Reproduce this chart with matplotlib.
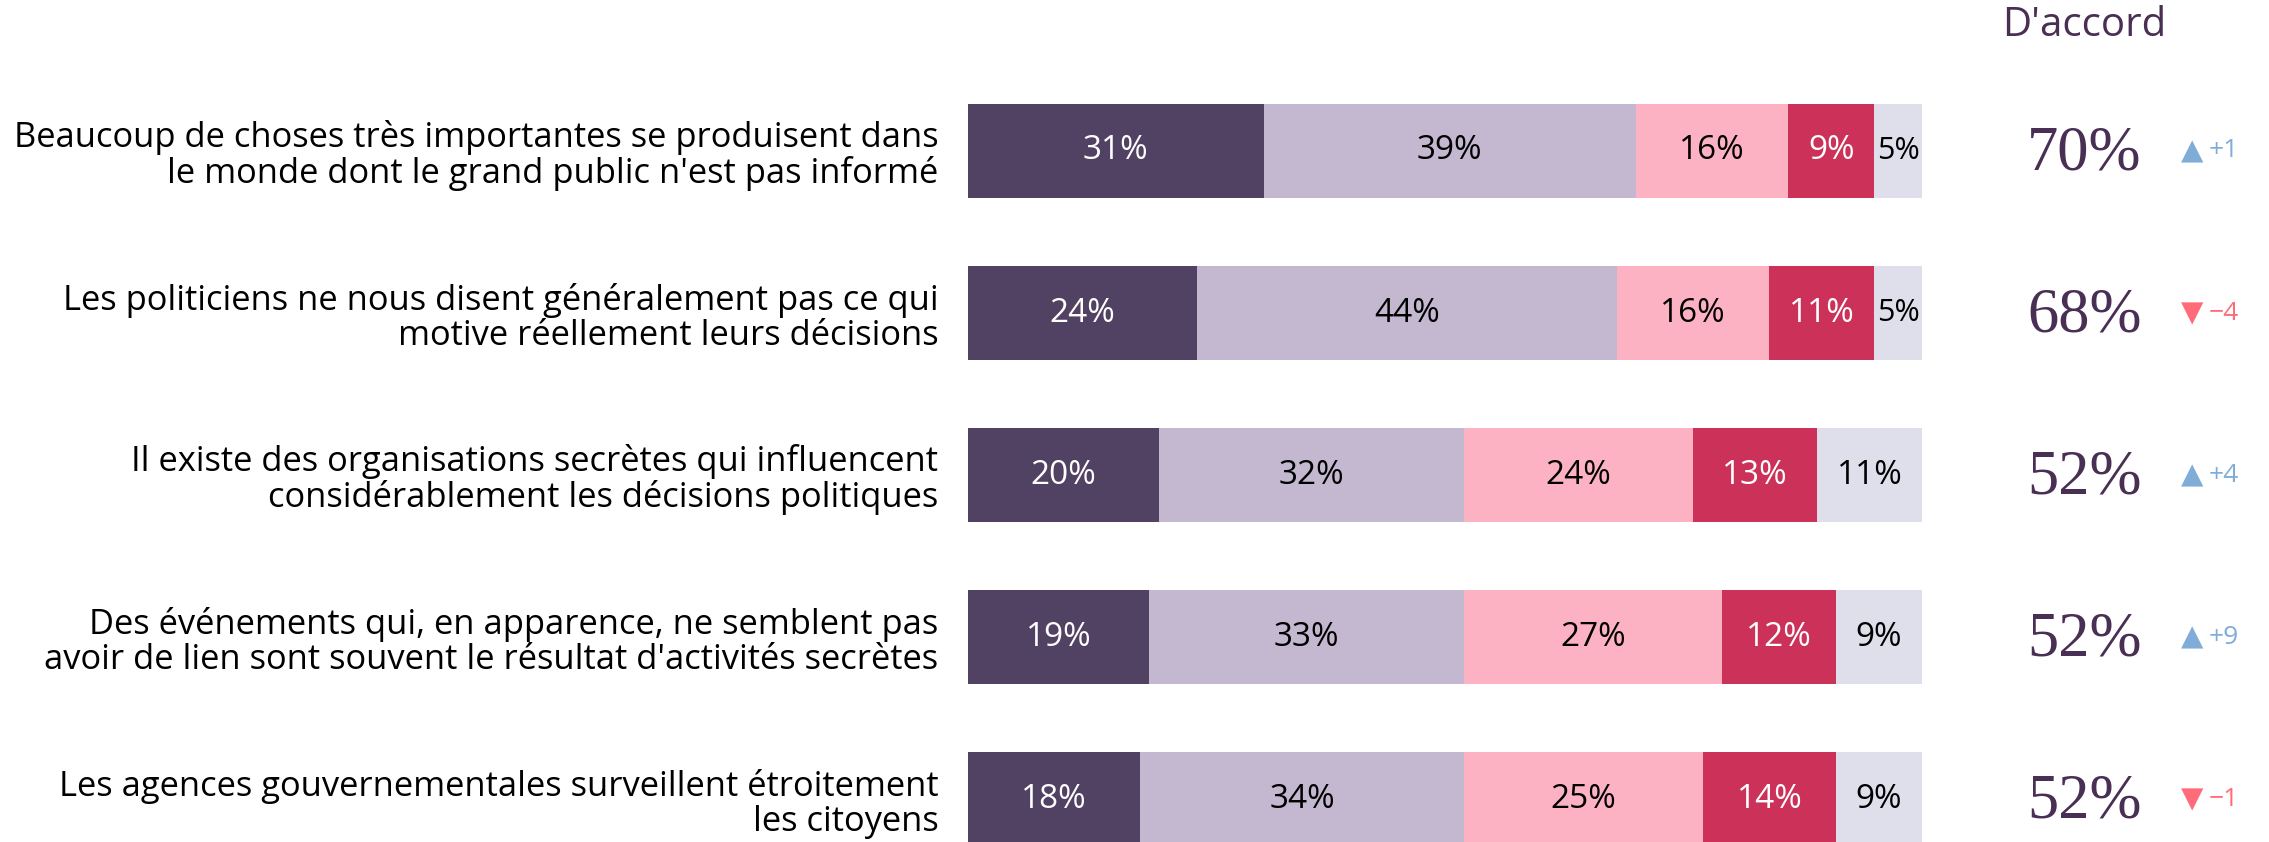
import matplotlib.pyplot as plt

statements = [
    "Beaucoup de choses très importantes se produisent dans\nle monde dont le grand public n'est pas informé",
    "Les politiciens ne nous disent généralement pas ce qui\nmotive réellement leurs décisions",
    "Il existe des organisations secrètes qui influencent\nconsidérablement les décisions politiques",
    "Des événements qui, en apparence, ne semblent pas\navoir de lien sont souvent le résultat d'activités secrètes",
    "Les agences gouvernementales surveillent étroitement\nles citoyens",
]
tout_a_fait = [31, 24, 20, 19, 18]
plutot_oui = [39, 44, 32, 33, 34]
plutot_non = [16, 16, 24, 27, 25]
pas_du_tout = [9, 11, 13, 12, 14]
nsp = [5, 5, 11, 9, 9]
evolution = [1, -4, 4, 9, -1]

series = [tout_a_fait, plutot_oui, plutot_non, pas_du_tout, nsp]
colors = ["#514163", "#c3b8d0", "#fdb2c3", "#cc3159", "#dfdfeb"]
text_colors = ["white", "black", "black", "white", "black"]

SANS = "Open Sans"
plt.rcParams["font.family"] = [SANS, "DejaVu Sans"]

fig = plt.figure(figsize=(22.69, 8.42), dpi=100)
ax = fig.add_axes([968 / 2269, 0, (1922 - 968) / 2269, 1])
ax.set_xlim(0, 100)
ax.set_ylim(4.265, -0.932)
ax.axis("off")

rows = range(len(statements))
left = [0] * len(statements)
for vals, col, tcol in zip(series, colors, text_colors):
    ax.barh(rows, vals, left=left, height=0.58, color=col, edgecolor="none")
    for i, v in enumerate(vals):
        # the 5% segments are narrow, so their label is a touch smaller
        ax.text(left[i] + v / 2, i, f"{v}%", ha="center", va="center",
                fontsize=24 if v > 5 else 22, color=tcol)
    left = [a + b for a, b in zip(left, vals)]

for i, txt in enumerate(statements):
    ax.text(-3.1, i + 0.03, txt, ha="right", va="center", fontsize=24.8,
            color="black", linespacing=1.03, clip_on=False)

    agree = tout_a_fait[i] + plutot_oui[i]
    ax.text(117, i + 0.02, f"{agree}%", ha="center", va="center",
            fontsize=45, color="#4a2f55", family="Liberation Serif",
            clip_on=False)

    d = evolution[i]
    dcol = "#7fadd8" if d > 0 else "#ff6b78"
    sym = "▲" if d > 0 else "▼"
    ax.text(128.3, i, sym, ha="center", va="center", fontsize=21,
            color=dcol, family="DejaVu Sans", clip_on=False)
    label = f"{d:+d}".replace("-", "−")
    ax.text(130.0, i, label, ha="left", va="center", fontsize=19,
            color=dcol, clip_on=False)

ax.text(117, -0.77, "D'accord", ha="center", va="center", fontsize=29,
        color="#4a2f55", clip_on=False)

fig.savefig("out.png", dpi=100)
